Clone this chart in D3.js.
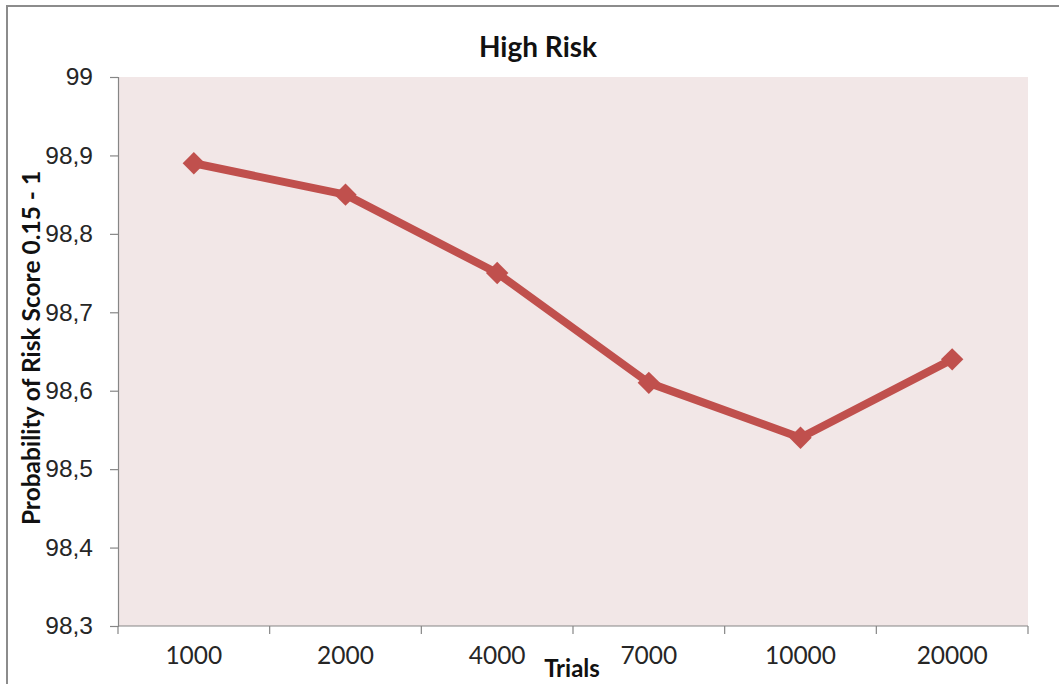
<!DOCTYPE html>
<html>
<head>
<meta charset="utf-8">
<script src="https://cdn.jsdelivr.net/npm/d3@7"></script>
<style>
  html, body { margin: 0; padding: 0; background: #fff; }
  svg { display: block; font-family: Lato, "Open Sans", sans-serif; }
</style>
</head>
<body>
<svg id="chart" width="1059" height="684"></svg>
<script>
// Trials run and the resulting probability (%) of a risk score in 0.15 - 1
const trials = ["1000", "2000", "4000", "7000", "10000", "20000"];
const probability = [98.89, 98.85, 98.75, 98.61, 98.54, 98.64];
const yTicks = [98.3, 98.4, 98.5, 98.6, 98.7, 98.8, 98.9, 99];

const svg = d3.select("#chart");
const plot = { left: 118, right: 1028, top: 77, bottom: 626 };

// outer chart frame (only the top and left edges fall inside the view)
svg.append("rect")
  .attr("x", 7).attr("y", 6)
  .attr("width", 1100).attr("height", 800)
  .attr("fill", "none").attr("stroke", "#8c8c8c").attr("stroke-width", 2);

const x = d3.scaleBand().domain(trials).range([plot.left, plot.right]);
const y = d3.scaleLinear().domain([98.3, 99]).range([plot.bottom, plot.top]);

// plot area background
svg.append("rect")
  .attr("x", plot.left).attr("y", plot.top)
  .attr("width", plot.right - plot.left).attr("height", plot.bottom - plot.top)
  .attr("fill", "#f2e7e7");

// y axis
const yAxis = svg.append("g")
  .attr("transform", `translate(${plot.left},0)`)
  .call(d3.axisLeft(y).tickValues(yTicks).tickSize(8).tickPadding(17)
    .tickFormat(d => d3.format(".1f")(d).replace(".0", "").replace(".", ",")));
yAxis.select(".domain").attr("stroke", "#868686").attr("stroke-width", 1.2);
yAxis.selectAll(".tick line").attr("stroke", "#868686").attr("stroke-width", 1.2);
yAxis.selectAll(".tick text").attr("fill", "#262626").attr("font-size", 24.5);

// x axis: tick marks sit on the category boundaries
const xAxisG = svg.append("g").attr("transform", `translate(0,${plot.bottom})`);
xAxisG.append("line")
  .attr("x1", plot.left).attr("x2", plot.right)
  .attr("stroke", "#868686").attr("stroke-width", 1.2);
const bounds = trials.map(t => x(t)).concat([x(trials[trials.length - 1]) + x.bandwidth()]);
xAxisG.selectAll("line.tk").data(bounds).join("line")
  .attr("class", "tk")
  .attr("x1", d => d).attr("x2", d => d)
  .attr("y1", 0).attr("y2", 8)
  .attr("stroke", "#868686").attr("stroke-width", 1.2);
xAxisG.selectAll("text").data(trials).join("text")
  .attr("x", d => x(d) + x.bandwidth() / 2)
  .attr("y", 38)
  .attr("text-anchor", "middle")
  .attr("fill", "#262626").attr("font-size", 24.5)
  .text(d => d);

// series line
const cx = d => x(d) + x.bandwidth() / 2;
svg.append("path")
  .datum(trials.map((t, i) => [cx(t), y(probability[i])]))
  .attr("d", d3.line())
  .attr("fill", "none")
  .attr("stroke", "#c0504d")
  .attr("stroke-width", 8)
  .attr("stroke-linejoin", "round");

// diamond markers
svg.selectAll("path.marker").data(trials).join("path")
  .attr("class", "marker")
  .attr("d", d3.symbol().type(d3.symbolDiamond2).size(320))
  .attr("transform", (t, i) => `translate(${cx(t)},${y(probability[i])})`)
  .attr("fill", "#c0504d");

// titles
svg.append("text")
  .attr("x", 538).attr("y", 57)
  .attr("text-anchor", "middle")
  .attr("font-size", 28).attr("font-weight", "bold").attr("fill", "#111")
  .text("High Risk");

svg.append("text")
  .attr("transform", "translate(40,348) rotate(-90)")
  .attr("text-anchor", "middle")
  .attr("font-size", 24.5).attr("font-weight", "bold").attr("fill", "#111")
  .text("Probability of Risk Score 0.15 - 1");

svg.append("text")
  .attr("x", 572).attr("y", 677)
  .attr("text-anchor", "middle")
  .attr("font-size", 24).attr("font-weight", "bold").attr("fill", "#111")
  .text("Trials");
</script>
</body>
</html>
